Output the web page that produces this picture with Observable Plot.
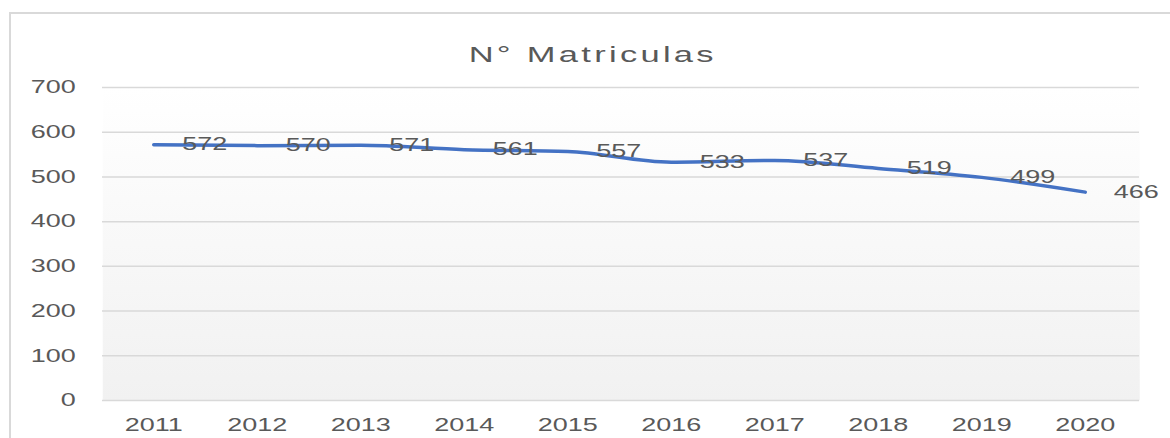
<!DOCTYPE html>
<html>
<head>
<meta charset="utf-8">
<script src="https://cdn.jsdelivr.net/npm/d3@7"></script>
<script src="https://cdn.jsdelivr.net/npm/@observablehq/plot@0.6"></script>
<style>
  html, body { margin: 0; padding: 0; background: #ffffff; width: 1170px; height: 438px; overflow: hidden; }
  #border { position: absolute; left: 9px; top: 12px; width: 1200px; height: 460px; border-left: 2px solid #d9d9d9; border-top: 2px solid #d9d9d9; box-sizing: border-box; }
  #chart { position: absolute; left: 0; top: 0; }
</style>
</head>
<body>
<div id="border"></div>
<div id="chart"></div>
<script>
const title = "N° Matriculas";
const years = ["2011", "2012", "2013", "2014", "2015", "2016", "2017", "2018", "2019", "2020"];
const matriculas = [572, 570, 571, 561, 557, 533, 537, 519, 499, 466];
const yTicks = [0, 100, 200, 300, 400, 500, 600, 700];

const data = years.map((year, i) => ({year, value: matriculas[i]}));

const S = 1.5; // horizontal stretch of the reference
const W = 1170 / S;

const svg = Plot.plot({
  width: W,
  height: 438,
  marginLeft: 102 / S,
  marginRight: 31 / S,
  marginTop: 87,
  marginBottom: 38,
  style: {fontFamily: "Liberation Sans, Arial, sans-serif", fontSize: "18px", color: "#595959", background: "transparent", overflow: "visible"},
  x: {type: "point", domain: years, range: [152 / S, 1087 / S], padding: 0, label: null, tickSize: 0, tickPadding: 18},
  y: {domain: [0, 700], ticks: yTicks, label: null, tickSize: 0, tickPadding: 18},
  marks: [
    Plot.frame({fill: "url(#plotbg)", stroke: null}),
    Plot.ruleY(yTicks, {stroke: "#d9d9d9", strokeWidth: 1.5}),
    Plot.line(data, {x: "year", y: "value", stroke: "#4472C4", strokeWidth: 3.5, curve: "monotone-x"}),
    Plot.text(data, {x: "year", y: "value", text: d => String(d.value), dx: 19, dy: 0, textAnchor: "start", fill: "#595959", fontSize: 18}),
    Plot.text([title], {frameAnchor: "top", dy: -42, dx: -19, fontSize: 23, fill: "#595959"})
  ]
});

// gradient for plot background
const ns = "http://www.w3.org/2000/svg";
const defs = document.createElementNS(ns, "defs");
const grad = document.createElementNS(ns, "linearGradient");
grad.setAttribute("id", "plotbg");
grad.setAttribute("x1", "0"); grad.setAttribute("y1", "0");
grad.setAttribute("x2", "0"); grad.setAttribute("y2", "1");
[["0", "#ffffff"], ["1", "#f1f1f1"]].forEach(([o, c]) => {
  const st = document.createElementNS(ns, "stop");
  st.setAttribute("offset", o);
  st.setAttribute("stop-color", c);
  grad.appendChild(st);
});
defs.appendChild(grad);
svg.insertBefore(defs, svg.firstChild);

// title letter spacing
svg.querySelectorAll("text").forEach(t => {
  if (t.textContent === title) t.setAttribute("letter-spacing", "2.2");
});
// keep line strokes in screen pixels
svg.querySelectorAll("path").forEach(p => p.setAttribute("vector-effect", "non-scaling-stroke"));
svg.querySelectorAll("line").forEach(p => p.setAttribute("vector-effect", "non-scaling-stroke"));

// stretch horizontally like the reference
svg.setAttribute("width", 1170);
svg.setAttribute("height", 438);
svg.setAttribute("preserveAspectRatio", "none");
svg.style.width = "1170px";
svg.style.height = "438px";
svg.style.maxWidth = "none";

document.getElementById("chart").appendChild(svg);
</script>
</body>
</html>
